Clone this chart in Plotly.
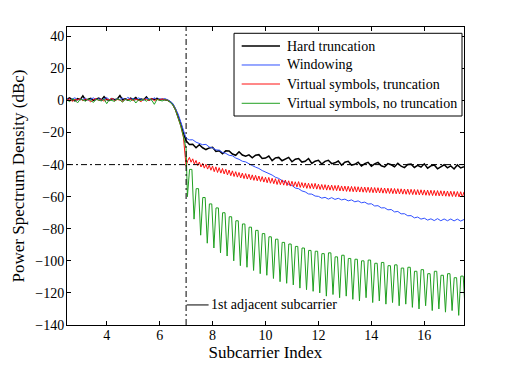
import numpy as np
import plotly.graph_objects as go

# axis ticks
x_ticks = [4, 6, 8, 10, 12, 14, 16]
y_ticks = [-140, -120, -100, -80, -60, -40, -20, 0, 20, 40]

labels = ["Hard truncation", "Windowing",
          "Virtual symbols, truncation", "Virtual symbols, no truncation"]
colors = ["#000000", "#3050ff", "#ff1010", "#20a020"]
widths = [1.5, 1, 1, 1]

# in-band part + roll-off, sampled every 0.1 from 2.5
black_pass = [0.8, 1.6, 0.4, -0.2, 1.1, 0.5, 2.9, 0.2, 0.7, 1.3,
              0.1, 0.9, 1.5, 0.3, 2.4, 0.6, 0.0, 1.2, 0.5, 0.9,
              3.1, 0.4, 1.0, 0.2, 1.4, 0.7, 1.8, 0.3, 0.9, 0.5,
              2.2, 0.2, 1.1, 0.6, 1.3, 0.4, 0.8, 0.5, 0.2,
              -0.8, -2.5, -5.5, -9.5, -14.5, -20.5]
blue_pass = [1.2, 0.3, 0.9, 1.7, 0.2, 1.0, 0.6, 1.4, 0.1, 0.8,
             1.6, 0.4, 1.1, 0.2, 0.9, 1.8, 0.5, 1.3, 0.0, 1.0,
             0.6, 1.5, 0.3, 2.0, 0.7, 1.2, 0.4, 1.6, 0.8, 0.2,
             1.4, 0.9, 0.3, 1.7, 0.5, 1.1, 0.6, 1.2, 0.4,
             -0.5, -2.0, -4.8, -8.5, -13.5, -19.0]
red_pass = [0.2, 1.0, -0.6, 0.7, 0.3, 1.2, -0.2, 0.8, 0.4, -0.9,
            0.6, 1.1, 0.0, 0.5, -0.4, 0.9, 0.3, 1.4, -0.3, 0.6,
            0.2, -0.7, 0.8, 0.4, 1.0, -0.1, 0.6, 0.3, -0.8, 0.9,
            0.5, 0.1, 1.2, -0.2, 0.7, 0.3, 0.9, 0.4, 0.1,
            -1.0, -2.8, -6.0, -10.5, -16.0, -23.0]
green_pass = [0.5, -0.8, 1.0, 0.2, -1.5, 0.8, 0.3, -0.5, 1.1, 0.0,
              -1.2, 0.7, 0.4, -0.3, 0.9, -2.0, 0.5, 0.1, -0.6, 1.0,
              0.3, -1.0, 0.6, 0.2, -0.4, 0.8, -1.6, 0.4, 0.0, 0.7,
              -0.5, 0.9, 0.2, -2.4, 0.6, 0.1, -0.3, 0.5, 0.0,
              -1.0, -2.8, -6.0, -10.5, -16.0, -22.5, -30.0]

# out-of-band, every 0.125 from 7.0
black_tail = [-25.2, -27.4, -27.3, -29.5, -27.6, -29.5, -30.6, -29.6,
              -29.2, -31.8, -31.3, -33.2, -31.4, -31.5, -33.4, -34.2,
              -32.0, -34.0, -34.8, -33.9, -35.8, -34.1, -33.8, -36.2,
              -35.9, -34.7, -37.5, -35.8, -35.5, -37.6, -36.7, -35.5,
              -38.2, -36.6, -36.2, -38.4, -37.9, -36.2, -39.3, -37.9,
              -37.3, -39.6, -38.0, -37.3, -39.4, -38.9, -37.8, -40.4,
              -38.5, -37.9, -40.4, -39.8, -38.5, -40.9, -39.4, -38.6,
              -41.0, -39.5, -38.6, -40.7, -41.4, -39.4, -40.1, -41.3,
              -39.2, -41.0, -41.9, -39.9, -39.7, -41.8, -40.5, -41.6,
              -39.5, -42.2, -40.8, -40.2, -42.6, -41.5, -40.1, -42.0,
              -40.8, -42.7, -40.2, -42.1, -41.3]
blue_tail = [-23.5, -24.6, -24.5, -26.0, -26.6, -27.6, -27.4, -29.0,
             -29.6, -30.8, -31.0, -32.4, -33.0, -34.2, -34.5, -35.9,
             -36.7, -37.9, -38.3, -39.6, -40.6, -41.6, -42.4, -43.7,
             -44.6, -45.8, -46.5, -47.9, -48.6, -50.0, -50.8, -52.3,
             -53.0, -54.6, -55.0, -56.4, -57.0, -58.3, -58.4, -59.6,
             -59.8, -60.9, -60.4, -61.5, -60.6, -61.7, -61.0, -62.0,
             -61.5, -62.6, -62.0, -63.2, -62.6, -63.8, -63.4, -64.6,
             -64.4, -65.8, -65.6, -67.0, -66.9, -68.2, -68.0, -69.5,
             -69.2, -70.7, -70.6, -71.9, -71.8, -73.2, -72.7, -74.0,
             -73.4, -74.6, -73.8, -74.9, -73.7, -75.0, -73.9, -75.0,
             -73.9, -75.1, -74.0, -75.2, -74.2]

# red ripple, every 0.0625 from 7.0
red_tail = [-41.0, -37.5, -35.5, -38.5, -36.4, -39.6, -37.4, -40.6, -38.4, -41.5, -39.2, -42.2, -39.8, -42.8, -40.4, -43.5,
            -40.9, -44.4, -41.4, -44.9, -41.9, -45.3, -42.4, -45.8, -42.9, -46.4, -43.4, -46.9, -43.9, -47.4, -44.4, -47.8,
            -44.9, -48.3, -45.3, -48.7, -45.6, -49.0, -46.0, -49.4, -46.4, -49.8, -46.7, -50.1, -47.1, -50.5, -47.5, -50.9,
            -47.9, -51.3, -48.0, -51.6, -48.5, -51.9, -48.8, -52.4, -49.2, -52.5, -49.5, -52.8, -49.6, -53.1, -50.1, -53.4,
            -50.4, -53.7, -50.7, -53.9, -50.6, -54.2, -51.2, -54.4, -51.4, -54.8, -51.6, -54.9, -51.8, -55.1, -51.7, -55.3,
            -52.2, -55.5, -52.4, -55.6, -52.5, -55.9, -52.7, -55.9, -52.8, -56.1, -53.0, -56.2, -52.9, -56.4, -53.3, -56.5,
            -53.4, -56.7, -53.5, -56.8, -53.6, -56.9, -53.7, -57.1, -53.8, -57.1, -53.9, -57.2, -54.0, -57.3, -54.1, -57.4,
            -54.2, -57.5, -54.3, -57.6, -54.4, -57.7, -54.5, -57.8, -54.6, -57.9, -54.7, -58.0, -54.8, -58.1, -54.9, -58.2,
            -55.0, -58.3, -55.1, -58.4, -55.2, -58.5, -55.3, -58.6, -55.4, -58.7, -55.5, -58.8, -55.6, -58.9, -55.7, -59.0,
            -55.8, -59.1, -55.9, -59.2, -56.0, -59.3, -56.1, -59.4, -56.2, -59.5, -56.3, -59.6, -56.4, -59.7, -56.5, -59.8,
            -56.6, -59.9, -56.7, -60.0, -56.8, -60.1, -56.9, -60.2, -57.0]

# green sidelobes: nulls every 0.25 from 7.05, peaks between them
green_nulls = [-60, -74, -84, -89, -92, -95, -97, -100, -103, -104,
               -106, -108, -109, -111, -113, -114, -115, -117, -118, -119,
               -120, -122, -121, -123, -122, -124, -125, -123, -126, -125,
               -127, -126, -128, -127, -129, -130, -128, -131, -130, -132,
               -131, -134, -133]
green_peaks = [-43, -55, -60.5, -64.5, -67, -70, -72.5, -75, -77, -79,
               -81, -83, -85, -86.5, -88.5, -89.5, -91, -92, -93.5, -94,
               -95.5, -95, -97.5, -96.5, -98.5, -99, -100, -99.5, -101.5, -101,
               -103, -102.5, -104.5, -104, -106.5, -105.5, -108, -106.5, -109, -108,
               -110.5, -109.5]

adj_x = 7.0
ref_level = -40


def pass_x(vals):
    return list(np.round(2.5 + 0.1 * np.arange(len(vals)), 4))


def tail_x(vals, step):
    return list(np.round(7.0 + step * np.arange(len(vals)), 4))


bx = pass_x(black_pass) + tail_x(black_tail, 0.125)
by = black_pass + black_tail
wx = pass_x(blue_pass) + tail_x(blue_tail, 0.125)
wy = blue_pass + blue_tail
rx = pass_x(red_pass) + tail_x(red_tail, 0.0625)
ry = red_pass + red_tail

gx = pass_x(green_pass)
gy = list(green_pass)
for k, pk in enumerate(green_peaks):
    x0 = 7.05 + 0.25 * k
    gx += [x0, x0 + 0.08, x0 + 0.17]
    gy += [green_nulls[k], pk, pk]
gx.append(7.05 + 0.25 * len(green_peaks))
gy.append(green_nulls[-1])

fig = go.Figure()
for xs, ys, name, color, w in zip([bx, wx, rx, gx], [by, wy, ry, gy], labels, colors, widths):
    fig.add_trace(go.Scatter(x=xs, y=ys, mode="lines", name=name, showlegend=False,
                             line=dict(color=color, width=w)))

dashdot = "6px,3px,2px,3px"
fig.add_hline(y=ref_level, line=dict(color="black", width=1, dash=dashdot))
fig.add_vline(x=adj_x, line=dict(color="black", width=1, dash=dashdot))

# "1st adjacent subcarrier" marker
fig.add_shape(type="line", x0=7.02, x1=7.85, y0=-127.5, y1=-127.5,
              xref="x", yref="y", line=dict(color="black", width=1))
fig.add_annotation(x=7.87, y=-127.5, text="1st adjacent subcarrier",
                   xanchor="left", yanchor="middle", showarrow=False)

# MATLAB-style boxed legend, drawn in paper coords
fig.add_shape(type="rect", xref="paper", yref="paper", x0=0.4207, x1=0.995,
              y0=0.7013, y1=0.9789, fillcolor="white", line=dict(color="black", width=1))
legend_rows = [0.9362, 0.8725, 0.8087, 0.744]
for ly, name, color, w in zip(legend_rows, labels, colors, widths):
    fig.add_shape(type="line", xref="paper", yref="paper", x0=0.44, x1=0.5365,
                  y0=ly, y1=ly, line=dict(color=color, width=w))
    fig.add_annotation(xref="paper", yref="paper", x=0.5491, y=ly, text=name,
                       xanchor="left", yanchor="middle", showarrow=False)

# page body has an 8px margin: shift the figure margins to compensate
fig.update_layout(
    width=512, height=366,
    margin=dict(l=59, r=56, t=19, b=49),
    paper_bgcolor="white", plot_bgcolor="white",
    font=dict(family="Liberation Serif, Times New Roman, serif", size=14, color="black"),
    showlegend=False,
)
axis_style = dict(showline=True, linecolor="black", linewidth=1, mirror="allticks",
                  ticks="inside", ticklen=4, tickcolor="black",
                  showgrid=False, zeroline=False, automargin=False)
fig.update_xaxes(range=[2.5, 17.5], tickvals=x_ticks, ticklabelstandoff=-3,
                 title=dict(text="Subcarrier Index", standoff=0), **axis_style)
fig.update_yaxes(range=[-140, 45.8], tickvals=y_ticks, ticklabelstandoff=-1,
                 title=dict(text="Power Spectrum Density (dBc)", standoff=6), **axis_style)

fig.write_html("out.html")
